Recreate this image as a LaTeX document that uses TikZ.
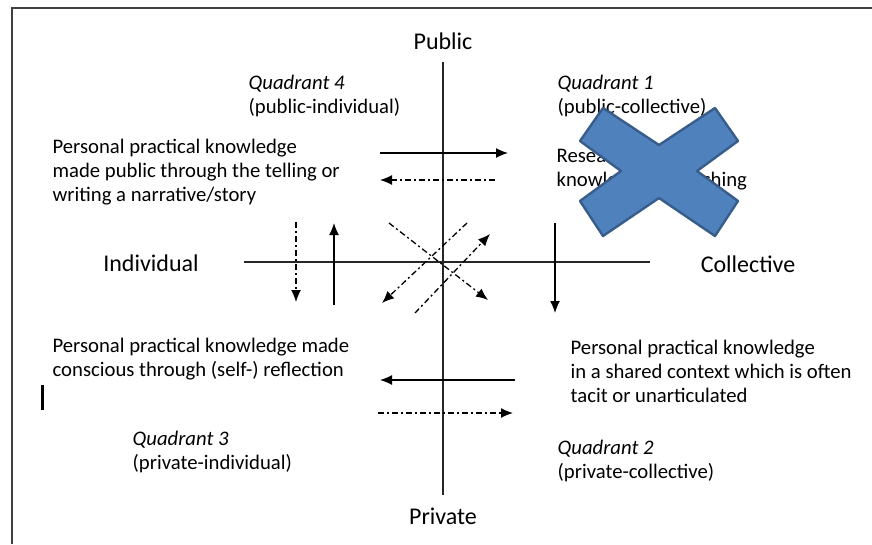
\documentclass[tikz,border=0pt]{standalone}
\usepackage{fontspec}
\setmainfont{Carlito}
\usetikzlibrary{arrows.meta}

\definecolor{xfill}{RGB}{79,129,189}
\definecolor{xline}{RGB}{56,93,138}

\begin{document}
\begin{tikzpicture}[x = 1pt, y = -1pt, line width = 1.3pt,
                        txt/.style = {anchor = west, align = left, inner sep = 0pt,
                                      font = \fontsize{20.7}{24}\selectfont},
                        big/.style = {inner sep = 0pt, font = \fontsize{24}{28}\selectfont},
                        arr/.style = {-{Latex[length = 12pt, width = 10pt]}},
                        dda/.style = {arr, dash pattern = on 6pt off 3pt on 2pt off 3pt}]
      \useasboundingbox (0, 0) rectangle (872, 544);
      \draw [line width = 2pt, black!75] (12, 544) -- (12, 8) -- (872, 8);

      % axes
      \coordinate (n) at (443, 62);
      \coordinate (s) at (443, 495);
      \coordinate (w) at (244, 262);
      \coordinate (e) at (650, 262);
      \draw [black!85] (n) -- (s);
      \draw [black!85] (w) -- (e);

      \node [big] (pub) at (443, 41){Public};
      \node [big] (priv) at (443, 516){Private};
      \node [big] (ind) at (151, 263){Individual};
      \node [big] (coll) at (748, 264){Collective};

      % quadrant labels
      \node [txt] (q4) at (248, 96){\textit{Quadrant 4}\\(public-individual)};
      \node [txt] (q1) at (557, 96){\textit{Quadrant 1}\\(public-collective)};
      \node [txt] (q3) at (132, 452){\textit{Quadrant 3}\\(private-individual)};
      \node [txt] (q2) at (557, 461){\textit{Quadrant 2}\\(private-collective)};

      % texts
      \node [txt] (k4) at (52, 172){Personal practical knowledge\\made public through the telling or\\writing a narrative/story};
      \node [txt] (k1) at (556, 169){Research-based\\knowledge of teaching};
      \node [txt] (k3) at (52, 359){Personal practical knowledge made\\conscious through (self-) reflection};
      \node [txt] (k2) at (570, 371){Personal practical knowledge\\in a shared context which is often\\tacit or unarticulated};

      % arrows
      \coordinate (t1) at (380, 153);
      \coordinate (t2) at (508, 153);
      \coordinate (t3) at (495, 180);
      \coordinate (t4) at (380, 180);
      \coordinate (l1) at (296, 222);
      \coordinate (l2) at (296, 302);
      \coordinate (l3) at (334, 305);
      \coordinate (l4) at (334, 223);
      \coordinate (r1) at (555, 223);
      \coordinate (r2) at (555, 313);
      \coordinate (b1) at (515, 380);
      \coordinate (b2) at (380, 380);
      \coordinate (b3) at (378, 413);
      \coordinate (b4) at (513, 413);
      \coordinate (d1) at (389, 223);
      \coordinate (d2) at (488, 300);
      \coordinate (d3) at (467, 223);
      \coordinate (d4) at (382, 303);
      \coordinate (d5) at (415, 313);
      \coordinate (d6) at (490, 234);
      \draw [arr] (t1) -- (t2);
      \draw [dda] (t3) -- (t4);
      \draw [dda] (l1) -- (l2);
      \draw [arr] (l3) -- (l4);
      \draw [arr] (r1) -- (r2);
      \draw [arr] (b1) -- (b2);
      \draw [dda] (b3) -- (b4);
      \draw [dda] (d1) -- (d2);
      \draw [dda] (d3) -- (d4);
      \draw [dda] (d5) -- (d6);

      % cross over quadrant 1
      \draw [line width = 2.4pt, draw = xline, fill = xfill, line join = round]
        (580, 141) -- (603, 108) -- (659, 145) -- (715, 108) -- (738, 141) -- (697, 171)
        -- (738, 201) -- (715, 236) -- (659, 198) -- (603, 236) -- (580, 201) -- (621, 171) -- cycle;

      \draw [line width = 3pt] (42, 385) -- (42, 410);
    \end{tikzpicture}
\end{document}
